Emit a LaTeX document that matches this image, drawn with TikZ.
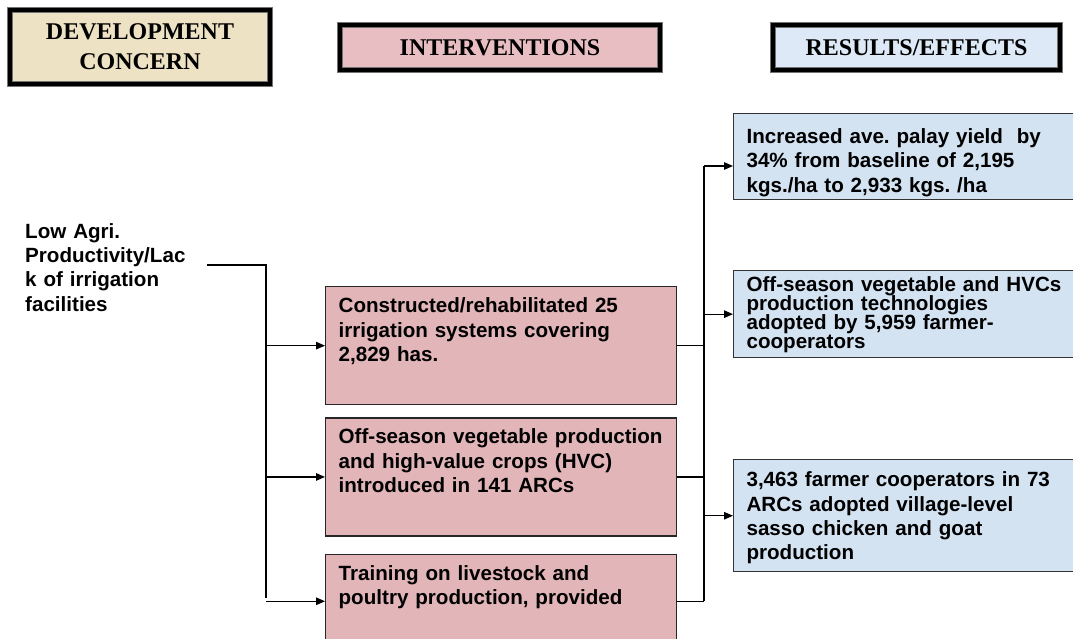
\documentclass[tikz,border=0pt]{standalone}
\usepackage{fontspec}
\setmainfont{Liberation Sans}
\newfontfamily\hdrserif{Liberation Serif}
\usetikzlibrary{positioning, arrows.meta}
\frenchspacing

\definecolor{devtan}{RGB}{238,226,196}
\definecolor{hdrpink}{RGB}{233,190,194}
\definecolor{hdrblue}{RGB}{221,233,246}
\definecolor{intpink}{RGB}{226,181,185}
\definecolor{resblue}{RGB}{212,227,242}

\newcommand\tightbody{\bfseries\fontsize{20.6}{19}\selectfont\lineskiplimit -50pt\relax}

\tikzset{
  hdr/.style={draw=black!55, line width=0.9pt, double=black, double distance=4.5pt,
    align=center, inner sep=0pt, font=\hdrserif\bfseries\fontsize{24}{30}\selectfont},
  body/.style={font=\bfseries\fontsize{20.6}{24.4}\selectfont},
  int/.style={body, draw=black!85, line width=1.3pt, fill=intpink, text width=325pt,
    inner xsep=13pt, inner ysep=0pt, text height=26pt, text depth=92pt, align=left},
  res/.style={body, draw=black!80, line width=1.1pt, fill=resblue, text width=318pt,
    inner xsep=13pt, inner ysep=0pt, align=left},
  wire/.style={draw, line width=1.3pt},
  arr/.style={draw, line width=1.3pt, -{Triangle[length=9pt, width=7.5pt]}}
}

\begin{document}
\begin{tikzpicture}[x=1pt, y=-1pt]
\useasboundingbox (0,0) rectangle (1073,639);
\clip (0,0) rectangle (1073,639);
\fill[white] (0,0) rectangle (1073,639);

\node[hdr, fill=devtan, minimum width=260pt, minimum height=74pt] (dev) at (140,47) {DEVELOPMENT\\CONCERN};
\node[hdr, fill=hdrpink, minimum width=320pt, minimum height=45pt] (ihdr) at (500,47.5) {INTERVENTIONS};
\node[hdr, fill=hdrblue, minimum width=287pt, minimum height=45pt] (rhdr) at (916.5,47.5) {RESULTS/EFFECTS};

\node[body, anchor=base west, text width=180pt, inner sep=0pt, align=left] (concern) at (25,238)
  {Low Agri.\\Productivity/Lac\\k of irrigation\\facilities};

\node[int, anchor=north west] (int1) at (325,286) {Constructed/rehabilitated 25\\irrigation systems covering\\2,829 has.};
\node[int, below=12pt of int1] (int2) {Off-season vegetable production\\and high-value crops (HVC)\\introduced in 141 ARCs};
\node[int, below=17pt of int2, text depth=68pt] (int3) {Training on livestock and\\poultry production, provided};

\node[res, anchor=north west, text height=30pt, text depth=56pt] (res1) at (733,113)
  {Increased ave. palay yield~ by\\34\% from baseline of 2,195\\kgs./ha to 2,933 kgs. /ha};
\node[res, below=70pt of res1, text height=21pt, text depth=66pt, font=\tightbody] (res2)
  {Off-season vegetable and HVCs\\production technologies\\adopted by 5,959 farmer-\\cooperators};
\node[res, below=101pt of res2, text height=27pt, text depth=85pt] (res3)
  {3,463 farmer cooperators in 73\\ARCs adopted village-level\\sasso chicken and goat\\production};

\coordinate (lk) at (207,265);
\coordinate (tr) at (266,598);
\coordinate (bus) at (704,166);

\draw[wire] (lk) -| (tr);
\draw
    (int1.west -| tr) edge[arr] (int1.west)
    (int2.west -| tr) edge[arr] (int2.west)
    (int3.west -| tr) edge[arr] (int3.west)
    ;
\draw[wire] (bus) -- (bus |- int3.east);
\draw
    (int1.east) edge[wire] (int1.east -| bus)
    (int2.east) edge[wire] (int2.east -| bus)
    (int3.east) edge[wire] (int3.east -| bus)
    (bus) edge[arr] (bus -| res1.west)
    (res2.west -| bus) edge[arr] (res2.west)
    (res3.west -| bus) edge[arr] (res3.west)
    ;
\end{tikzpicture}
\end{document}
